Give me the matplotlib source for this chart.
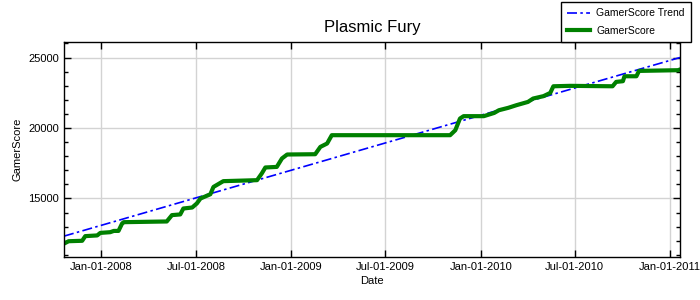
import numpy as np
import matplotlib
matplotlib.use('Agg')
import matplotlib.pyplot as plt
import matplotlib.dates as mdates
from matplotlib.ticker import MultipleLocator

plt.rcParams['font.family'] = ['Liberation Sans', 'DejaVu Sans']

# GamerScore history
score_dates = ['2007-10-21', '2007-10-30', '2007-11-25', '2007-12-01', '2007-12-24',
               '2007-12-30', '2008-01-18', '2008-01-25', '2008-02-03', '2008-02-10',
               '2008-02-13', '2008-05-06', '2008-05-16', '2008-06-01', '2008-06-07',
               '2008-06-24', '2008-07-03', '2008-07-10', '2008-07-29', '2008-08-04',
               '2008-08-23', '2008-10-27', '2008-11-05', '2008-11-12', '2008-12-04',
               '2008-12-14', '2008-12-24', '2009-02-16', '2009-02-26', '2009-03-11',
               '2009-03-20', '2009-11-03', '2009-11-13', '2009-11-22', '2009-11-29',
               '2010-01-07', '2010-01-27', '2010-02-05', '2010-02-23', '2010-03-11',
               '2010-04-02', '2010-04-12', '2010-05-02', '2010-05-15', '2010-05-21',
               '2010-06-22', '2010-09-12', '2010-09-19', '2010-10-02', '2010-10-05',
               '2010-10-28', '2010-11-02', '2011-01-16', '2011-01-20']
score_vals = [11800, 11970, 12000, 12330, 12380,
              12560, 12610, 12700, 12700, 13230,
              13320, 13370, 13820, 13870, 14290,
              14360, 14650, 15000, 15300, 15820,
              16230, 16300, 16770, 17200, 17240,
              17840, 18120, 18140, 18660, 18900,
              19490, 19490, 19840, 20670, 20840,
              20840, 21070, 21260, 21430, 21620,
              21850, 22090, 22260, 22490, 22960,
              22990, 22960, 23270, 23320, 23670,
              23670, 24050, 24100, 24150]

trend_dates = ['2007-10-21', '2011-01-20']
trend_vals = [12330, 25000]

xticks = ['2008-01-01', '2008-07-01', '2009-01-01', '2009-07-01',
          '2010-01-01', '2010-07-01', '2011-01-01']

fig = plt.figure(figsize=(7, 3), dpi=100)
ax = fig.add_axes([64/700, 43/300, 616/700, 215/300])

ax.plot(np.array(trend_dates, dtype='datetime64[D]'), trend_vals, color='blue',
        linestyle=(0, (6, 2, 1.5, 2)), linewidth=1.2, label='GamerScore Trend')
ax.plot(np.array(score_dates, dtype='datetime64[D]'), score_vals, color='green',
        linewidth=3, label='GamerScore')

ax.set_xlim(np.datetime64('2007-10-21'), np.datetime64('2011-01-20'))
ax.set_ylim(10850, 26100)
ax.set_xticks(np.array(xticks, dtype='datetime64[D]'))
ax.xaxis.set_major_formatter(mdates.DateFormatter('%b-%d-%Y'))
ax.yaxis.set_major_locator(MultipleLocator(5000))
ax.yaxis.set_minor_locator(MultipleLocator(1000))

ax.grid(True, color='#d3d3d3', linewidth=1)
ax.set_axisbelow(True)
ax.tick_params(which='both', direction='in', top=True, right=True, labelsize=8)
ax.tick_params(which='major', length=5, width=1)
ax.tick_params(which='minor', length=3, width=1)
for s in ax.spines.values():
    s.set_linewidth(1)

ax.set_title('Plasmic Fury', fontsize=12, pad=7)
ax.set_xlabel('Date', fontsize=8, labelpad=3)
ax.set_ylabel('GamerScore', fontsize=8, labelpad=4)

leg = ax.legend(loc='upper right', bbox_to_anchor=(691/700, 298/300),
                bbox_transform=fig.transFigure, fontsize=7.5, frameon=True,
                fancybox=False, edgecolor='black', framealpha=1,
                handlelength=2.2, handletextpad=0.6, borderpad=0.6,
                labelspacing=0.75, borderaxespad=0)
leg.get_frame().set_linewidth(1)

fig.savefig('out.png', dpi=100)
